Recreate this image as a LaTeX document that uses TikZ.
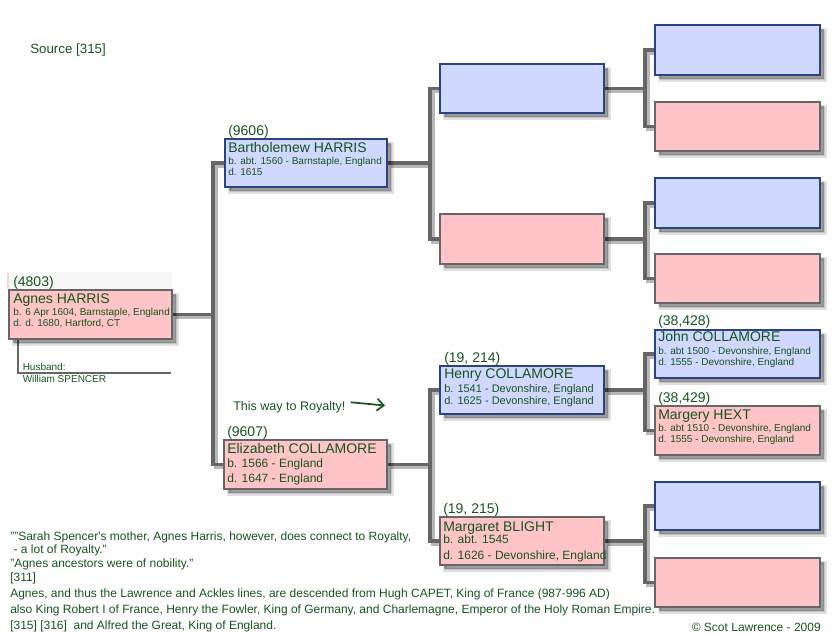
\documentclass[tikz,border=0pt]{standalone}
\usepackage{fontspec}
\setmainfont{Liberation Sans}
\usetikzlibrary{shadows,arrows.meta,calc,backgrounds}
\definecolor{tgreen}{RGB}{22,84,30}
\definecolor{pinkfill}{RGB}{255,196,200}
\definecolor{bluefill}{RGB}{208,216,255}
\definecolor{blueline}{RGB}{43,68,128}
\definecolor{grayline}{RGB}{102,102,102}
\tikzset{
  softshadow/.style={
    general shadow={shadow xshift=3.5pt,shadow yshift=-3.5pt,fill=black,draw=black,line width=3pt,opacity=.12},
    general shadow={shadow xshift=3.2pt,shadow yshift=-3.2pt,fill=black,opacity=.3}},
  pinkbox/.style={softshadow,draw=grayline,fill=pinkfill,line width=2.2pt,inner sep=0pt},
  bluebox/.style={softshadow,draw=blueline,fill=bluefill,line width=2.2pt,inner sep=0pt},
  conn/.style={draw=grayline,line width=2.3pt,
    preaction={draw=black!28,line width=2.8pt,transform canvas={shift={(2.2pt,-2.2pt)}}}},
  plainconn/.style={draw=grayline,line width=2.2pt},
  txt/.style={text=tgreen,inner sep=0pt,anchor=base west},
  idt/.style={txt,font=\fontsize{10.5}{12}\selectfont},
  nm/.style={txt,font=\fontsize{10.5}{12}\selectfont},
  detA/.style={txt,font=\fontsize{7.5}{9}\selectfont},
  detB/.style={txt,font=\fontsize{8.25}{10}\selectfont},
  detC/.style={txt,font=\fontsize{9}{11}\selectfont},
  note/.style={txt,font=\fontsize{9}{11}\selectfont},
}
\newcommand\mkbox[6]{\node[#6,minimum width={(#4-#2)*0.75pt},minimum height={(#5-#3)*0.75pt}] (#1) at ({(#2+#4)/2},{(#3+#5)/2}) {};}
\begin{document}
\begin{tikzpicture}[x=0.75pt,y=-0.75pt]
\useasboundingbox (0,0) rectangle (833,633);
% junction coordinates
\coordinate (j1) at (213,314.5);
\coordinate (j2) at (430,163);
\coordinate (j3) at (430,464.5);
\coordinate (j4) at (645,88.5);
\coordinate (j5) at (645,239);
\coordinate (j6) at (645,390);
\coordinate (j7) at (645,541);
\coordinate (hcorner) at (18,373);
\coordinate (hend) at (171,373);
% faint band behind (4803)
\fill[black!3] (7,272) rectangle (172,290);
\fill[black!12] (7,273) rectangle (9,289);
% boxes
\mkbox{agnes}{9}{290}{172}{339}{pinkbox}
\mkbox{bart}{225}{139}{387}{187}{bluebox}
\mkbox{eliz}{224}{440}{387}{489}{pinkbox}
\mkbox{gA}{440}{64}{604}{113}{bluebox}
\mkbox{gB}{440}{214}{604}{264}{pinkbox}
\mkbox{henry}{440}{366}{604}{414}{bluebox}
\mkbox{marg}{440}{517}{604}{565}{pinkbox}
\mkbox{hA}{655}{25}{820}{75}{bluebox}
\mkbox{hB}{655}{102}{820}{151}{pinkbox}
\mkbox{hC}{655}{178}{820}{228}{bluebox}
\mkbox{hD}{655}{254}{820}{303}{pinkbox}
\mkbox{john}{655}{330}{820}{378}{bluebox}
\mkbox{margery}{655}{406}{820}{455}{pinkbox}
\mkbox{hG}{655}{482}{820}{530}{bluebox}
\mkbox{hH}{655}{558}{820}{607}{pinkbox}
% connectors behind boxes
\begin{pgfonlayer}{background}
\draw[conn] (agnes.east) -- (j1);
\draw[conn] (bart.west) -| (j1) |- (eliz.west);
\draw[conn] (bart.east) -- (j2);
\draw[conn] (gA.west) -| (j2) |- (gB.west);
\draw[conn] (eliz.east) -- (j3);
\draw[conn] (henry.west) -| (j3) |- (marg.west);
\draw[conn] (gA.east) -- (j4);
\draw[conn] (hA.west) -| (j4) |- (hB.west);
\draw[conn] (gB.east) -- (j5);
\draw[conn] (hC.west) -| (j5) |- (hD.west);
\draw[conn] (henry.east) -- (j6);
\draw[conn] (john.west) -| (j6) |- (margery.west);
\draw[conn] (marg.east) -- (j7);
\draw[conn] (hG.west) -| (j7) |- (hH.west);
\draw[plainconn] (agnes.south -| hcorner) -- (hcorner) -- (hend);
\end{pgfonlayer}
% texts
\node[txt,font=\fontsize{10}{12}\selectfont] (src) at (30,53) {Source [315]};
% Agnes
\node[idt] (agnesid) at (13,286.5) {(4803)};
\node[nm] (agnesnm) at (13,303) {Agnes HARRIS};
\node[detA] (agnesb) at (13,315) {b. 6 Apr 1604, Barnstaple, England};
\node[detA] (agnesd) at (13,326) {d. d. 1680, Hartford, CT};
\node[txt,font=\fontsize{7.5}{9}\selectfont] (husb) at (22.5,370) {Husband:};
\node[txt,font=\fontsize{7.5}{9}\selectfont] (wspen) at (22.5,382) {William SPENCER};
% Bartholemew
\node[idt] (bartid) at (228,135) {(9606)};
\node[nm] (bartnm) at (228,152) {Bartholemew HARRIS};
\node[detA] (bartb) at (228,164.5) {b. abt. 1560 - Barnstaple, England};
\node[detA] (bartd) at (228,175.5) {d. 1615};
% Elizabeth
\node[txt,font=\fontsize{9.4}{11}\selectfont] (royal) at (233,410) {This way to Royalty!};
\coordinate (royalend) at (385,405.5);
\draw[tgreen,line width=1.3pt,-{Straight Barb[length=5pt,width=9pt]}] (royal.east) ++(5,-4.5) coordinate (royalstart) -- (royalend);
\node[idt] (elizid) at (227,436) {(9607)};
\node[nm] (eliznm) at (227,453) {Elizabeth COLLAMORE};
\node[detC] (elizb) at (227,467) {b. 1566 - England};
\node[detC] (elizd) at (227,482) {d. 1647 - England};
% Henry
\node[idt] (henryid) at (444,362.5) {(19, 214)};
\node[nm] (henrynm) at (444,378) {Henry COLLAMORE};
\node[detB] (henryb) at (444,392.5) {b. 1541 - Devonshire, England};
\node[detB] (henryd) at (444,404.5) {d. 1625 - Devonshire, England};
% Margaret
\node[idt] (margid) at (443,513.5) {(19, 215)};
\node[nm] (margnm) at (443,531) {Margaret BLIGHT};
\node[detC] (margb) at (443,543.5) {b. abt. 1545};
\node[detC] (margd) at (443,559) {d. 1626 - Devonshire, England};
% John
\node[idt] (johnid) at (658,325) {(38,428)};
\node[nm] (johnnm) at (658,341) {John COLLAMORE};
\node[detA] (johnb) at (658,354.5) {b. abt 1500 - Devonshire, England};
\node[detA] (johnd) at (658,365.5) {d. 1555 - Devonshire, England};
% Margery
\node[idt] (margeryid) at (658,402.5) {(38,429)};
\node[nm] (margerynm) at (658,419) {Margery HEXT};
\node[detA] (margeryb) at (658,431) {b. abt 1510 - Devonshire, England};
\node[detA] (margeryd) at (658,442) {d. 1555 - Devonshire, England};
% notes
\node[note] (n1) at (10,540) {""Sarah Spencer\textquotesingle s mother, Agnes Harris, however, does connect to Royalty,};
\node[note] (n2) at (10,553.5) {\ - a lot of Royalty."};
\node[note] (n3) at (10,567.5) {"Agnes ancestors were of nobility."};
\node[note] (n4) at (10,581) {[311]};
\node[note] (n5) at (10,597) {Agnes, and thus the Lawrence and Ackles lines, are descended from Hugh CAPET, King of France (987-996 AD)};
\node[note] (n6) at (10,613) {also King Robert I of France, Henry the Fowler, King of Germany, and Charlemagne, Emperor of the Holy Roman Empire.};
\node[note] (n7) at (10,629) {[315] [316]\ \ and Alfred the Great, King of England.};
\node[txt,anchor=base east,font=\fontsize{9}{11}\selectfont] (copy) at (821,631) {© Scot Lawrence - 2009};
\end{tikzpicture}
\end{document}
